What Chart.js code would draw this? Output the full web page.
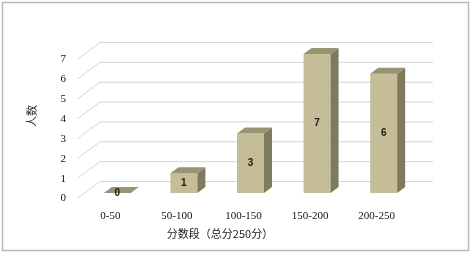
<!DOCTYPE html>
<html>
<head>
<meta charset="utf-8">
<script src="https://cdn.jsdelivr.net/npm/chart.js@4/dist/chart.umd.min.js"></script>
<style>
    body { margin: 0; background: #fff; }
    #wrap { position: relative; width: 472px; height: 253px; }
</style>
</head>
<body>
<div id="wrap"><canvas id="score-chart" width="472" height="253"></canvas></div>
<script>
const categories = ["0-50", "50-100", "100-150", "150-200", "200-250"];
const counts = [0, 1, 3, 7, 6];
const yMax = 7;
const xTitle = "分数段（总分250分）";
const yTitle = "人数";

const frontColor = "rgb(196,189,151)";
const topColor = "rgb(152,147,114)";
const sideColor = "rgb(126,122,94)";
const depthX = 8;
const depthY = 6;

// back wall grid lines with the little diagonal to the front edge
const wallPlugin = {
    id: "wall",
    beforeDraw(chart) {
        const ctx = chart.ctx;
        ctx.save();
        ctx.fillStyle = "#fff";
        ctx.fillRect(0, 0, chart.width, chart.height);
        ctx.strokeStyle = "#b8b8b8";
        ctx.lineWidth = 1.5;
        ctx.strokeRect(2.5, 2.5, 466, 248);
        ctx.restore();
    },
    beforeDatasetsDraw(chart) {
        const ctx = chart.ctx;
        const area = chart.chartArea;
        const yScale = chart.scales.y;
        ctx.save();
        ctx.strokeStyle = "#d6d6d6";
        ctx.lineWidth = 1;
        yScale.ticks.forEach(tick => {
            const y = yScale.getPixelForValue(tick.value);
            ctx.beginPath();
            ctx.moveTo(area.left - 7, y + 5.5);
            ctx.lineTo(area.left + 16, y - 11.5);
            ctx.lineTo(area.right + 16, y - 11.5);
            ctx.stroke();
        });
        ctx.restore();
    },
    afterDatasetsDraw(chart) {
        const ctx = chart.ctx;
        const meta = chart.getDatasetMeta(0);
        ctx.save();
        meta.data.forEach((bar, i) => {
            const left = bar.x - bar.width / 2;
            const right = bar.x + bar.width / 2;
            const top = bar.y;
            const base = bar.base;
            // side
            ctx.fillStyle = sideColor;
            ctx.beginPath();
            ctx.moveTo(right, top);
            ctx.lineTo(right + depthX, top - depthY);
            ctx.lineTo(right + depthX, base - depthY);
            ctx.lineTo(right, base);
            ctx.closePath();
            ctx.fill();
            // top
            ctx.fillStyle = topColor;
            ctx.beginPath();
            ctx.moveTo(left, top);
            ctx.lineTo(left + depthX, top - depthY);
            ctx.lineTo(right + depthX, top - depthY);
            ctx.lineTo(right, top);
            ctx.closePath();
            ctx.fill();
            // value label
            ctx.fillStyle = "#1a1a1a";
            ctx.font = "bold 10px 'Liberation Sans', Arial, sans-serif";
            ctx.textAlign = "center";
            ctx.textBaseline = "middle";
            ctx.fillText(String(counts[i]), bar.x, (top + base) / 2);
        });
        ctx.restore();
    },
    afterDraw(chart) {
        const ctx = chart.ctx;
        ctx.save();
        ctx.fillStyle = "#1a1a1a";
        ctx.font = "11px 'Noto Sans CJK SC', sans-serif";
        ctx.textAlign = "center";
        ctx.textBaseline = "middle";
        ctx.fillText(xTitle, 220, 234);
        ctx.translate(32, 116);
        ctx.rotate(-Math.PI / 2);
        ctx.fillText(yTitle, 0, 0);
        ctx.restore();
    }
};

const chartEl = document.getElementById("score-chart");
const scoreChart = new Chart(chartEl, {
    type: "bar",
    data: {
        labels: categories,
        datasets: [{
            data: counts,
            backgroundColor: frontColor,
            borderWidth: 0,
            barPercentage: 0.405,
            categoryPercentage: 1
        }]
    },
    options: {
        responsive: false,
        animation: false,
        events: [],
        layout: { padding: { top: 54, right: 55, bottom: 0, left: 0 } },
        plugins: { legend: { display: false }, tooltip: { enabled: false } },
        scales: {
            x: {
                grid: { display: false, drawTicks: false },
                border: { display: false },
                afterFit: scale => { scale.height = 60; },
                ticks: {
                    color: "#111",
                    font: { family: "'Liberation Serif', serif", size: 11 },
                    padding: 17,
                    labelOffset: -7,
                    maxRotation: 0
                }
            },
            y: {
                min: 0,
                max: yMax,
                grid: { display: false, drawTicks: false },
                border: { display: false },
                afterFit: scale => { scale.width = 84; },
                ticks: {
                    stepSize: 1,
                    color: "#111",
                    font: { family: "'Liberation Serif', serif", size: 11 },
                    padding: 18,
                    labelOffset: 5.5
                }
            }
        }
    },
    plugins: [wallPlugin]
});
</script>
</body>
</html>
